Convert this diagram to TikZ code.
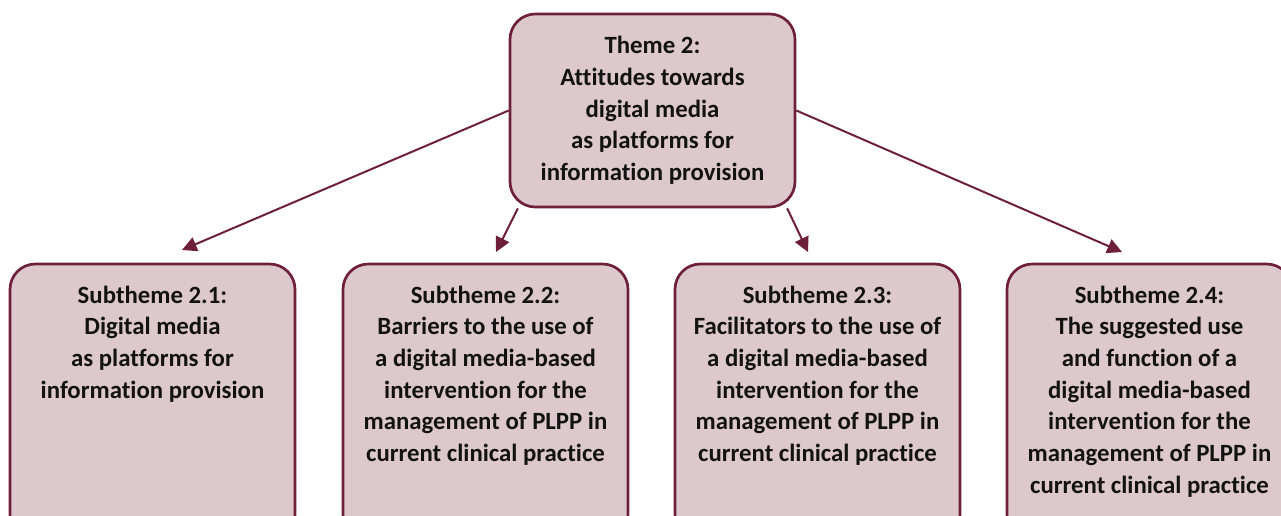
\documentclass[tikz,border=0pt]{standalone}
\usepackage{fontspec}
\setmainfont[Ligatures=NoCommon]{Carlito}
\usetikzlibrary{arrows.meta,positioning,backgrounds}
\definecolor{themeline}{HTML}{6E1F3A}
\definecolor{themefill}{HTML}{DDC9CD}
\tikzset{
  themebox/.style={draw=themeline, fill=themefill, line width=2pt, rounded corners=19pt,
    minimum width=213.75pt, minimum height=144.75pt, inner sep=0pt},
  subbox/.style={themebox, minimum height=207pt},
  boxtext/.style={inner sep=0pt, align=center, text=black!93,
    font=\fontsize{18.6pt}{23.8pt}\selectfont\bfseries},
  themearrow/.style={draw=themeline, line width=1.5pt,
    -{Triangle[length=11pt,width=11pt]}},
}
\begin{document}
\begin{tikzpicture}[x=0.75pt, y=-0.75pt]
\useasboundingbox (0,0) rectangle (1281,515);
\clip (0,0) rectangle (1281,515);
% theme and subthemes
\node[themebox, boxtext] (theme) at (652.5,110.5) {Theme 2:\\Attitudes towards\\digital media\\as platforms for\\information provision};
\node[subbox] (sub1) at (152.5,402) {};
\node[subbox] (sub2) at (485.5,402) {};
\node[subbox] (sub3) at (817.5,402) {};
\node[subbox] (sub4) at (1149.5,402) {};
\node[boxtext, below=17pt of sub1.north] (sub1txt) {Subtheme 2.1:\\Digital media\\as platforms for\\information provision};
\node[boxtext, below=17pt of sub2.north] (sub2txt) {Subtheme 2.2:\\Barriers to the use of\\a digital media-based\\intervention for the\\management of PLPP in\\current clinical practice};
\node[boxtext, below=17pt of sub3.north] (sub3txt) {Subtheme 2.3:\\Facilitators to the use of\\a digital media-based\\intervention for the\\management of PLPP in\\current clinical practice};
\node[boxtext, below=17pt of sub4.north] (sub4txt) {Subtheme 2.4:\\The suggested use\\and function of a\\digital media-based\\intervention for the\\management of PLPP in\\current clinical practice};
% arrow ends
\coordinate (a1) at (182,250);
\coordinate (a2) at (496,252);
\coordinate (a3) at (808,252);
\coordinate (a4) at (1122,252);
\begin{scope}[on background layer]
\draw[themearrow] (theme.west) -- (a1);
\draw[themearrow] (theme.216) -- (a2);
\draw[themearrow] (theme.-36) -- (a3);
\draw[themearrow] (theme.east) -- (a4);
\end{scope}
\end{tikzpicture}
\end{document}
